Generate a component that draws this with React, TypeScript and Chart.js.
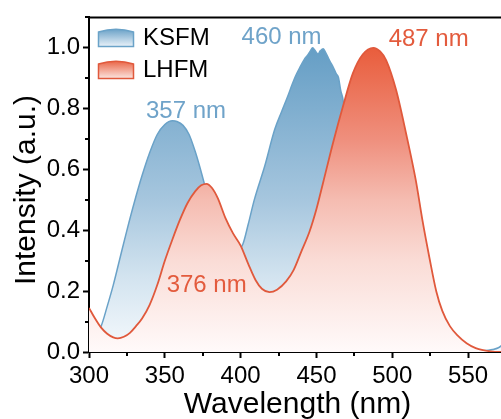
import React, { useEffect, useRef } from 'react';
import { Chart, registerables } from 'chart.js';

Chart.register(...registerables);

// ---- data ----
const ksfmWavelength = [
  305, 308, 312, 316, 320, 325, 330, 335, 340, 345, 350, 355, 358, 362, 366, 370, 373, 376,
  380, 385, 390, 395, 398, 401.5, 405, 409, 416, 422.5, 427, 431, 434, 436, 439, 442, 444,
  446, 447.5, 449, 451, 452.5, 454.5, 456, 457.5, 459, 461, 463, 464.5, 466, 467.5, 470,
  475, 480, 490, 500, 510, 520, 530, 540, 550, 560, 566, 570, 573,
];
const ksfmIntensity = [
  0.06, 0.085, 0.15, 0.22, 0.3, 0.4, 0.494, 0.58, 0.655, 0.715, 0.748, 0.76, 0.758, 0.745,
  0.715, 0.66, 0.61, 0.555, 0.49, 0.42, 0.37, 0.34, 0.335, 0.355, 0.42, 0.5, 0.613, 0.732,
  0.79, 0.84, 0.88, 0.905, 0.935, 0.962, 0.975, 0.99, 1.0, 0.992, 0.98, 0.99, 0.997, 0.985,
  0.97, 0.955, 0.937, 0.915, 0.903, 0.86, 0.83, 0.72, 0.55, 0.4, 0.2, 0.09, 0.04, 0.015,
  0.006, 0.003, 0.002, 0.004, 0.008, 0.014, 0.025,
];
const lhfmWavelength = [
  300, 304, 308, 312, 316, 319, 323, 327, 331, 335, 340, 345, 350, 355, 360, 365, 370, 374,
  377.5, 381, 385, 390, 395, 400, 405, 410, 414, 419, 424, 430, 435, 440, 445.5, 450, 454.5,
  461, 467.5, 474, 480.5, 487.5, 492, 496, 502.5, 509, 515.5, 520, 524.5, 529, 533, 538, 543,
  549, 555, 560, 565, 570, 575,
];
const lhfmIntensity = [
  0.145, 0.11, 0.08, 0.06, 0.048, 0.045, 0.05, 0.063, 0.085, 0.11, 0.155, 0.22, 0.3, 0.37,
  0.435, 0.49, 0.528, 0.548, 0.553, 0.54, 0.505, 0.44, 0.39, 0.35, 0.29, 0.235, 0.208, 0.197,
  0.205, 0.232, 0.27, 0.33, 0.397, 0.47, 0.559, 0.689, 0.808, 0.916, 0.978, 1.0, 0.988, 0.959,
  0.862, 0.721, 0.565, 0.43, 0.31, 0.2, 0.135, 0.085, 0.055, 0.029, 0.013, 0.006, 0.002, 0, 0,
];
const seriesLabels = ['KSFM', 'LHFM'];
const xTickValues = [300, 350, 400, 450, 500, 550];
const xMinorTickValues = [325, 375, 425, 475, 525, 575];
const yTickValues = [0, 0.2, 0.4, 0.6, 0.8, 1.0];
const yMinorTickValues = [0.1, 0.3, 0.5, 0.7, 0.9, 1.1];
const peakTexts = ['357 nm', '460 nm', '487 nm', '376 nm'];
const peakAnchorX = [364, 427, 524, 377.6];
const peakAnchorY = [0.77, 1.013, 1.007, 0.197];
const peakSeries = [0, 0, 1, 1];

const FONT = '"Liberation Sans", Arial, Helvetica, sans-serif';
const BLUE_LINE = '#6aa2c8';
const RED_LINE = '#e0593c';
const BLUE_TEXT = '#6fa3c9';
const RED_TEXT = '#e35b3d';

function makeGradient(chart: any, stops: [number, string][]) {
  const area = chart.chartArea;
  if (!area) return null;
  const y1 = chart.scales.y.getPixelForValue(1);
  const y0 = chart.scales.y.getPixelForValue(0);
  const g = chart.ctx.createLinearGradient(0, y1, 0, y0);
  stops.forEach(([o, c]) => g.addColorStop(o, c));
  return g;
}

const blueStops: [number, string][] = [
  [0, '#659ec5'],
  [0.5, '#a6c6de'],
  [0.75, '#d2e3ef'],
  [1, '#f6fafd'],
];
const redStops: [number, string][] = [
  [0, '#e95d3c'],
  [0.3, '#ef8f7d'],
  [0.5, '#f5bcb1'],
  [0.7, '#fadcd6'],
  [1, '#fffafa'],
];

const decorPlugin = {
  id: 'decor',
  afterDraw(chart: any) {
    const { ctx, chartArea } = chart;
    const xs = chart.scales.x;
    const ys = chart.scales.y;
    ctx.save();
    // top frame
    ctx.strokeStyle = '#000';
    ctx.lineWidth = 2;
    ctx.beginPath();
    ctx.moveTo(chartArea.left - 1, chartArea.top);
    ctx.lineTo(chartArea.right, chartArea.top);
    ctx.stroke();
    // minor ticks
    ctx.lineWidth = 2;
    xMinorTickValues.forEach((v) => {
      const px = Math.round(xs.getPixelForValue(v));
      ctx.beginPath();
      ctx.moveTo(px, chartArea.bottom);
      ctx.lineTo(px, chartArea.bottom + 4);
      ctx.stroke();
    });
    yMinorTickValues.forEach((v) => {
      const py = Math.round(ys.getPixelForValue(v));
      ctx.beginPath();
      ctx.moveTo(chartArea.left, py);
      ctx.lineTo(chartArea.left - 4, py);
      ctx.stroke();
    });
    // axis titles
    ctx.fillStyle = '#000';
    ctx.font = `30px ${FONT}`;
    ctx.textAlign = 'center';
    ctx.textBaseline = 'alphabetic';
    ctx.fillText('Wavelength (nm)', 297.5, 413);
    ctx.save();
    ctx.translate(35, 190);
    ctx.rotate(-Math.PI / 2);
    ctx.fillText('Intensity (a.u.)', 0, 0);
    ctx.restore();
    // legend
    const icons = [
      { y: 29, stroke: BLUE_LINE, top: '#6aa1c7', bottom: '#eaf2f9' },
      { y: 61, stroke: RED_LINE, top: '#ea6546', bottom: '#fbe5e0' },
    ];
    icons.forEach((ic, i) => {
      const x = 98.5;
      const w = 35;
      const yTop = ic.y;
      const yBot = ic.y + 17.5;
      const g = ctx.createLinearGradient(0, yTop, 0, yBot);
      g.addColorStop(0, ic.top);
      g.addColorStop(1, ic.bottom);
      ctx.beginPath();
      ctx.moveTo(x, yBot);
      ctx.lineTo(x, yTop + 3);
      ctx.quadraticCurveTo(x + w / 2, yTop - 2.5, x + w, yTop + 3);
      ctx.lineTo(x + w, yBot);
      ctx.closePath();
      ctx.fillStyle = g;
      ctx.fill();
      ctx.strokeStyle = ic.stroke;
      ctx.lineWidth = 1.5;
      ctx.stroke();
      ctx.fillStyle = '#000';
      ctx.font = `24px ${FONT}`;
      ctx.textAlign = 'left';
      ctx.fillText(chart.data.datasets[i].label, 143, yBot - 1.5);
    });
    // peak labels
    ctx.font = `24px ${FONT}`;
    ctx.textAlign = 'center';
    peakTexts.forEach((t, i) => {
      ctx.fillStyle = peakSeries[i] === 0 ? BLUE_TEXT : RED_TEXT;
      ctx.fillText(t, xs.getPixelForValue(peakAnchorX[i]), ys.getPixelForValue(peakAnchorY[i]));
    });
    ctx.restore();
  },
};

export default function App() {
  const ref = useRef<HTMLCanvasElement | null>(null);
  useEffect(() => {
    document.body.style.overflow = 'hidden';
    const canvas = ref.current;
    if (!canvas) return;
    const chart = new Chart(canvas, {
      type: 'line',
      data: {
        datasets: [
          {
            label: seriesLabels[0],
            data: ksfmWavelength.map((x, i) => ({ x, y: ksfmIntensity[i] })),
            borderColor: BLUE_LINE,
            borderWidth: 1.5,
            pointRadius: 0,
            fill: 'origin',
            cubicInterpolationMode: 'monotone',
            order: 2,
            backgroundColor: (c: any) => makeGradient(c.chart, blueStops),
          },
          {
            label: seriesLabels[1],
            data: lhfmWavelength.map((x, i) => ({ x, y: lhfmIntensity[i] })),
            borderColor: RED_LINE,
            borderWidth: 1.8,
            pointRadius: 0,
            fill: 'origin',
            cubicInterpolationMode: 'monotone',
            order: 1,
            backgroundColor: (c: any) => makeGradient(c.chart, redStops),
          },
        ],
      },
      options: {
        animation: false,
        responsive: false,
        devicePixelRatio: 1,
        layout: { padding: { top: 12, left: 0, right: 0, bottom: 0 } },
        plugins: { legend: { display: false }, tooltip: { enabled: false } },
        scales: {
          x: {
            type: 'linear',
            min: 300,
            max: 575,
            z: 1,
            afterBuildTicks: (s: any) => {
              s.ticks = xTickValues.map((v) => ({ value: v }));
            },
            afterFit: (s: any) => {
              s.height = 67;
            },
            grid: {
              drawOnChartArea: false,
              drawTicks: true,
              tickLength: 6,
              tickWidth: 2,
              tickColor: '#000',
            },
            border: { display: true, color: '#000', width: 2 },
            ticks: {
              color: '#000',
              padding: 4,
              maxRotation: 0,
              autoSkip: false,
              font: { family: FONT, size: 24 },
              callback: (v: any) => String(v),
            },
          },
          y: {
            type: 'linear',
            min: 0,
            max: 1.1,
            z: 1,
            afterBuildTicks: (s: any) => {
              s.ticks = yTickValues.map((v) => ({ value: v }));
            },
            afterFit: (s: any) => {
              s.width = 89;
            },
            grid: {
              drawOnChartArea: false,
              drawTicks: true,
              tickLength: 6,
              tickWidth: 2,
              tickColor: '#000',
            },
            border: { display: true, color: '#000', width: 2 },
            ticks: {
              color: '#000',
              padding: 3,
              autoSkip: false,
              font: { family: FONT, size: 24 },
              callback: (v: any) => Number(v).toFixed(1),
            },
          },
        },
      } as any,
      plugins: [decorPlugin],
    });
    return () => chart.destroy();
  }, []);
  return (
    <canvas
      ref={ref}
      width={506}
      height={419}
      style={{ position: 'fixed', left: 0, top: 0, width: 506, height: 419 }}
    />
  );
}
